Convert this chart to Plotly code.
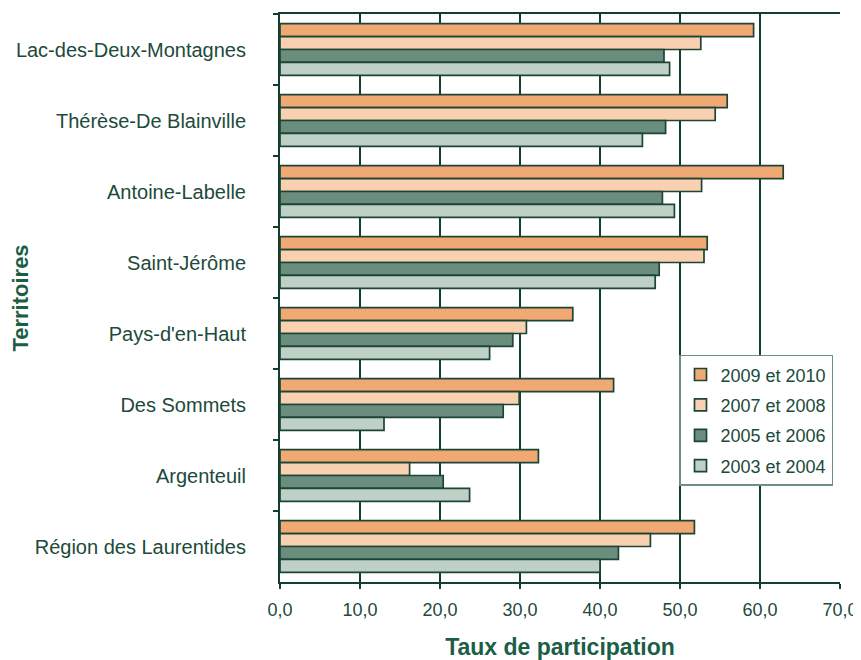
import plotly.graph_objects as go

territoires = [
    "Lac-des-Deux-Montagnes",
    "Thérèse-De Blainville",
    "Antoine-Labelle",
    "Saint-Jérôme",
    "Pays-d'en-Haut",
    "Des Sommets",
    "Argenteuil",
    "Région des Laurentides",
]

series_names = ["2009 et 2010", "2007 et 2008", "2005 et 2006", "2003 et 2004"]

v_2009_2010 = [59.2, 55.9, 62.9, 53.4, 36.6, 41.7, 32.3, 51.8]
v_2007_2008 = [52.6, 54.4, 52.7, 53.0, 30.8, 29.9, 16.2, 46.3]
v_2005_2006 = [48.0, 48.2, 47.8, 47.4, 29.1, 27.9, 20.4, 42.3]
v_2003_2004 = [48.7, 45.3, 49.3, 46.9, 26.2, 13.0, 23.7, 40.0]

x_ticks = [0, 10, 20, 30, 40, 50, 60, 70]

colors = ["#F1A973", "#F9D1B1", "#6A8D7D", "#BFD0C7"]
values = [v_2009_2010, v_2007_2008, v_2005_2006, v_2003_2004]

dark = "#123F30"
text_col = "#1C4A3B"
title_col = "#1B5E46"

fig = go.Figure()
for name, vals, col in zip(series_names, values, colors):
    fig.add_trace(go.Bar(
        y=territoires, x=vals, name=name, orientation="h",
        marker=dict(color=col, line=dict(color="#1D4536", width=1.7)),
        legendgroup=name,
    ))

# page body has an 8px default margin: figure is sized/offset to compensate
fig.update_layout(
    width=853, height=652,
    margin=dict(l=272, r=21, t=6, b=78, autoexpand=False),
    paper_bgcolor="white", plot_bgcolor="white",
    barmode="group", bargap=0.27, bargroupgap=0,
    separators=", ",
    font=dict(family="Liberation Sans, Arial, sans-serif", color=text_col),
    showlegend=True,
    legend=dict(
        x=0.7125, y=0.40, xanchor="left", yanchor="top",
        bgcolor="white", bordercolor="#6F8F82", borderwidth=1.5,
        font=dict(size=18, color=text_col),
        traceorder="grouped", tracegroupgap=4,
        itemwidth=30, entrywidth=165, entrywidthmode="pixels",
    ),
    xaxis=dict(
        range=[0, 70], tickvals=x_ticks, tickformat=".1f",
        automargin=False,
        showgrid=True, gridcolor=dark, gridwidth=1.8,
        showline=True, linecolor=dark, linewidth=2, mirror=True,
        ticks="outside", ticklen=5, tickwidth=2, tickcolor=dark,
        tickfont=dict(size=18, color=text_col), ticklabelstandoff=5,
        zeroline=False,
        title=dict(text="<b>Taux de participation</b>",
                   font=dict(size=23, color=title_col), standoff=23),
    ),
    yaxis=dict(
        type="category", categoryorder="array", categoryarray=territoires,
        autorange="reversed", automargin=False,
        showline=True, linecolor=dark, linewidth=2,
        ticks="outside", ticklen=5, tickwidth=2, tickcolor=dark,
        tickson="boundaries", ticklabelstandoff=28,
        tickfont=dict(size=20, color=text_col),
        showgrid=False,
        title=dict(text="<b>Territoires</b>",
                   font=dict(size=22, color=title_col), standoff=8),
    ),
)

fig.write_html("out.html")
